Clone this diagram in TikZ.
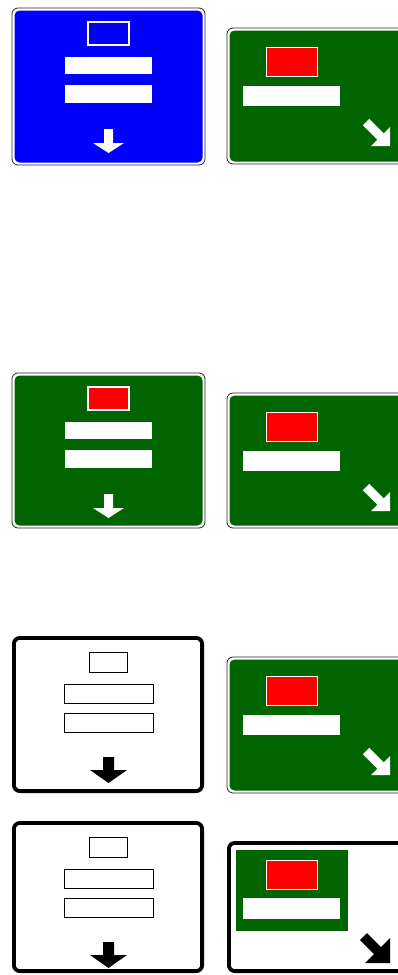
\documentclass[tikz,border=0pt]{standalone}
\definecolor{signblue}{RGB}{0,0,255}
\definecolor{signgreen}{RGB}{0,100,0}
\definecolor{signred}{RGB}{255,0,0}
\tikzset{
  frameout/.style={draw=black!85, line width=0.8pt, fill=white, rounded corners=6pt},
  wframe/.style={draw=black, line width=3.8pt, fill=white, rounded corners=6pt},
  whitebar/.style={fill=white},
  outlinebar/.style={draw=black, line width=0.8pt, fill=white},
  redbox/.style={fill=signred, draw=white, line width=1pt},
}
\newcommand\drawLeftColSign[5]{% x, y, height, fill colour, box fill
  \begin{scope}[shift={(#1,#2)}]
    \path[frameout] (0,0) rectangle (193,#3);
    \fill[#4, rounded corners=5pt] (2.5,2.5) rectangle (190.5,{#3-2.5});
    \filldraw[fill=#5, draw=white, line width=1.2pt] (76,14) rectangle (117,37);
    \fill[whitebar] (53,49) rectangle (140,66);
    \fill[whitebar] (53,77) rectangle (140,95);
    \fill[white] (92,121) -- (101,121) -- (101,135) -- (112,135) -- (96.5,145)
      -- (81,135) -- (92,135) -- cycle;
  \end{scope}}
\newcommand\drawRightColSign[3]{% x, y, height
  \begin{scope}[shift={(#1,#2)}]
    \path[frameout] (0,0) rectangle (200,#3);
    \fill[signgreen, rounded corners=5pt] (2.5,2.5) rectangle (197.5,{#3-2.5});
    \filldraw[redbox] (39,19) rectangle (90,48);
    \fill[whitebar] (16,57.5) rectangle (113,78);
    \fill[white] (142.2,90.8) -- (156.7,105.3) -- (163,99) -- (163,118)
      -- (144,118) -- (150.3,111.7) -- (135.8,97.2) -- cycle;
  \end{scope}}
\newcommand\drawLeftWhiteSign[3]{% x, y, height
  \begin{scope}[shift={(#1,#2)}]
    \path[wframe] (1.9,1.9) rectangle (190.1,{#3-1.9});
    \draw[outlinebar] (77,16) rectangle (115,36);
    \draw[outlinebar] (52,48) rectangle (141,67);
    \draw[outlinebar] (52,77) rectangle (141,96);
    \fill[black] (91,121) -- (102,121) -- (102,134) -- (115,134) -- (96.5,147)
      -- (78,134) -- (91,134) -- cycle;
  \end{scope}}
\begin{document}
\begin{tikzpicture}[x=1pt,y=-1pt]
  \useasboundingbox (0,0) rectangle (398,975);
  % row 1
  \drawLeftColSign{12}{8}{157}{signblue}{signblue}
  \drawRightColSign{227}{28}{136}
  % row 2
  \drawLeftColSign{12}{373}{155}{signgreen}{signred}
  \drawRightColSign{227}{393}{135}
  % row 3
  \drawLeftWhiteSign{12}{636}{157}
  \drawRightColSign{227}{657}{136}
  % row 4
  \drawLeftWhiteSign{12}{821}{152}
  \begin{scope}[shift={(227,841)}]
    \path[wframe] (1.9,1.9) rectangle (200,130.1);
    \fill[signgreen] (9,9) rectangle (121,90);
    \filldraw[redbox] (39,19) rectangle (90,48);
    \fill[whitebar] (16,57) rectangle (113,78);
    \fill[black] (140,92) -- (154,106) -- (163,97) -- (163,122)
      -- (138,122) -- (147,113) -- (133,99) -- cycle;
  \end{scope}
\end{tikzpicture}
\end{document}
